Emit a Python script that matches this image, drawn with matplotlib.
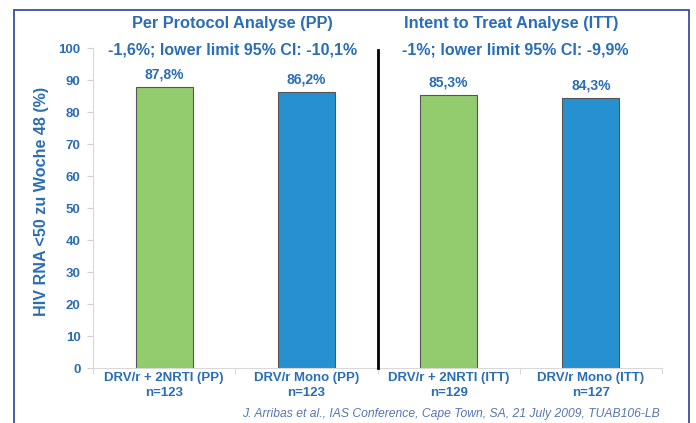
import matplotlib
matplotlib.use("Agg")
import matplotlib.pyplot as plt
from matplotlib.patches import Rectangle

plt.rcParams['font.family'] = ['Liberation Sans', 'DejaVu Sans']

# data
categories = ['DRV/r + 2NRTI (PP)\nn=123', 'DRV/r Mono (PP)\nn=123',
              'DRV/r + 2NRTI (ITT)\nn=129', 'DRV/r Mono (ITT)\nn=127']
values = [87.8, 86.2, 85.3, 84.3]
value_labels = ['87,8%', '86,2%', '85,3%', '84,3%']
group_titles = ['Per Protocol Analyse (PP)', 'Intent to Treat Analyse (ITT)']
group_notes = ['-1,6%; lower limit 95% CI: -10,1%', '-1%; lower limit 95% CI: -9,9%']
yticks = [0, 10, 20, 30, 40, 50, 60, 70, 80, 90, 100]

text_blue = '#2A6DB8'
bar_colors = ['#93CC6F', '#2690D1', '#93CC6F', '#2690D1']

fig = plt.figure(figsize=(6.96, 4.23), dpi=100)
fig.patch.set_facecolor('white')

# outer frame of the slide
fig.patches.append(Rectangle((14 / 696, -0.1), (689 - 14) / 696, 1.1 - 10.5 / 423,
                             transform=fig.transFigure, fill=False,
                             edgecolor='#3A4E9E', linewidth=1.3))

ax = fig.add_axes([93 / 696, 1 - 368 / 423, (662 - 93) / 696, (368 - 48) / 423])
x = range(len(values))
ax.bar(x, values, width=0.4, color=bar_colors, edgecolor='#555555', linewidth=0.8, zorder=2)

for i, v in enumerate(values):
    ax.text(i, v + 1.8, value_labels[i], ha='center', va='bottom',
            fontsize=10, fontweight='bold', color=text_blue)

ax.set_xlim(-0.5, 3.5)
ax.set_ylim(0, 100)
ax.set_yticks(yticks)
ax.set_yticklabels([str(t) for t in yticks], fontsize=9.5, fontweight='bold', color=text_blue)
ax.set_xticks([0, 1, 2, 3])
ax.set_xticklabels(categories, fontsize=9.5, fontweight='bold', color=text_blue, linespacing=1.35)
ax.set_xticks([-0.5, 0.5, 1.5, 2.5, 3.5], minor=True)
ax.tick_params(axis='x', which='major', length=0, pad=3)
ax.tick_params(axis='x', which='minor', length=4, color='#D0D0D0')
ax.tick_params(axis='y', length=4, color='#D0D0D0', pad=5)

for side in ['top', 'right']:
    ax.spines[side].set_visible(False)
for side in ['left', 'bottom']:
    ax.spines[side].set_color('#D8D8D8')

ax.set_ylabel('HIV RNA <50 zu Woche 48 (%)', fontsize=11.6, fontweight='bold',
              color=text_blue)
ax.yaxis.set_label_coords(-0.077, 0.52)

# divider between PP and ITT
ax.plot([1.5, 1.5], [0, 99.5], color='black', linewidth=2, zorder=3, clip_on=False)

# group headings
ax.text(0.48, 107.8, group_titles[0], ha='center', va='center', fontsize=11.8,
        fontweight='bold', color=text_blue)
ax.text(2.44, 107.8, group_titles[1], ha='center', va='center', fontsize=11.8,
        fontweight='bold', color=text_blue)
ax.text(0.48, 99.3, group_notes[0], ha='center', va='center', fontsize=11.5,
        fontweight='bold', color=text_blue)
ax.text(2.47, 99.3, group_notes[1], ha='center', va='center', fontsize=11.5,
        fontweight='bold', color=text_blue)

fig.text(660 / 696, 1 - 414 / 423,
         'J. Arribas et al., IAS Conference, Cape Town, SA, 21 July 2009, TUAB106-LB',
         ha='right', va='center', fontsize=8.7, style='italic', color='#5676B0')

fig.savefig('out.png', dpi=100)
